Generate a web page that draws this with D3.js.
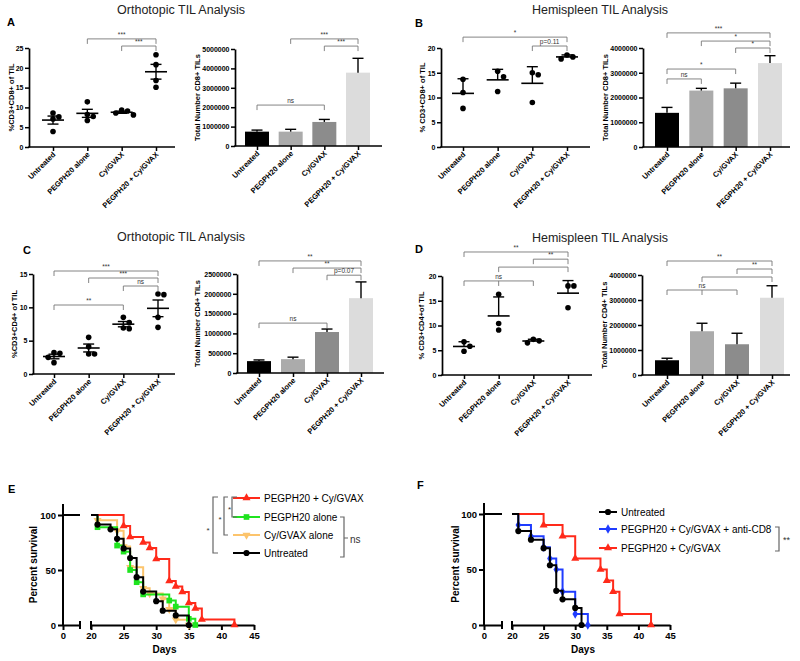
<!DOCTYPE html>
<html><head><meta charset="utf-8">
<script src="https://cdn.jsdelivr.net/npm/d3@7"></script>
<style>
body{margin:0;background:#fff;}
svg{display:block;}
</style></head><body>
<svg id="chart" width="800" height="661"></svg>
<script>
// ---------------- DATA ----------------
const categories = ["Untreated", "PEGPH20 alone", "Cy/GVAX", "PEGPH20 + Cy/GVAX"];
const barColors = ["#000000", "#ababab", "#8c8c8c", "#dcdcdc"];

// Panel A (Orthotopic, CD8)
const aPctCD8 = [[8.6, 7.6, 7.1, 3.9], [11.4, 8.2, 7.7, 6.7], [9.3, 9.1, 8.6, 8.1], [23.3, 20.8, 16.8, 15.1]];
const aPctTicks = [0, 5, 10, 15, 20, 25];
const aPctBrackets = [
  {from: 1, to: 3, level: 27.3, label: "***"},
  {from: 2, to: 3, level: 25.5, label: "***"}];
const aTotalCD8 = [740000, 740000, 1240000, 3780000];
const aTotalCD8Err = [80000, 120000, 130000, 740000];
const aTotalTicks = [0, 1000000, 2000000, 3000000, 4000000, 5000000];
const aTotalBrackets = [
  {from: 1, to: 3, level: 5520000, label: "***"},
  {from: 2, to: 3, level: 5150000, label: "***"},
  {from: 0, to: 2, level: 2110000, label: "ns"}];

// Panel B (Hemispleen, CD8)
const bPctCD8 = [[13.7, 11.0, 7.8], [15.3, 14.2, 11.2], [15.0, 14.6, 9.0], [18.6, 18.2, 17.8]];
const bPctTicks = [0, 5, 10, 15, 20];
const bPctBrackets = [
  {from: 0, to: 3, level: 22.2, label: "*"},
  {from: 2, to: 3, level: 20.4, label: "p=0.11"}];
const bTotalCD8 = [1380000, 2280000, 2370000, 3390000];
const bTotalCD8Err = [220000, 90000, 210000, 300000];
const bTotalTicks = [0, 1000000, 2000000, 3000000, 4000000];
const bTotalBrackets = [
  {from: 0, to: 3, level: 4610000, label: "***"},
  {from: 1, to: 3, level: 4280000, label: "*"},
  {from: 2, to: 3, level: 4000000, label: "*"},
  {from: 0, to: 2, level: 3150000, label: "*"},
  {from: 0, to: 1, level: 2750000, label: "ns"}];

// Panel C (Orthotopic, CD4)
const cPctCD4 = [[3.2, 3.1, 2.5, 1.7], [5.5, 4.1, 3.0, 3.0], [8.5, 7.7, 6.9, 6.8], [12.0, 11.9, 8.5, 7.0]];
const cPctTicks = [0, 5, 10, 15];
const cPctBrackets = [
  {from: 0, to: 3, level: 15.45, label: "***"},
  {from: 1, to: 3, level: 14.4, label: "***"},
  {from: 2, to: 3, level: 13.2, label: "ns"},
  {from: 0, to: 2, level: 10.35, label: "**"}];
const cTotalCD4 = [300000, 350000, 1035000, 1890000];
const cTotalCD4Err = [30000, 50000, 75000, 410000];
const cTotalTicks = [0, 500000, 1000000, 1500000, 2000000, 2500000];
const cTotalBrackets = [
  {from: 0, to: 3, level: 2830000, label: "**"},
  {from: 1, to: 3, level: 2650000, label: "**"},
  {from: 2, to: 3, level: 2470000, label: "p=0.07"},
  {from: 0, to: 2, level: 1260000, label: "ns"}];

// Panel D (Hemispleen, CD4)
const dPctCD4 = [[6.7, 5.8, 4.8], [16.3, 10.4, 9.1], [7.2, 6.9, 6.5], [18.0, 18.0, 13.6]];
const dPctTicks = [0, 5, 10, 15, 20];
const dPctBrackets = [
  {from: 0, to: 3, level: 24.85, label: "**"},
  {from: 2, to: 3, level: 23.4, label: "**"},
  {from: 1, to: 3, level: 21.8, label: ""},
  {from: 0, to: 2, mid: 1, level: 19.0, label: "ns"}];
const dTotalCD4 = [590000, 1750000, 1230000, 3090000];
const dTotalCD4Err = [80000, 320000, 440000, 480000];
const dTotalTicks = [0, 1000000, 2000000, 3000000, 4000000];
const dTotalBrackets = [
  {from: 0, to: 3, level: 4560000, label: "**"},
  {from: 2, to: 3, level: 4240000, label: "**"},
  {from: 1, to: 3, level: 3920000, label: ""},
  {from: 0, to: 2, mid: 1, level: 3400000, label: "ns"}];

// Panel E survival (day, % surviving)
const survivalTicks = [20, 25, 30, 35, 40, 45];
const survivalYTicks = [0, 50, 100];
const eCombo = [[25, 90], [26, 80], [28, 75], [29, 70], [30, 60], [32, 40], [33, 35], [34, 30], [35, 20], [36, 15], [37, 5], [42, 0]];
const ePEGPH20 = [[21, 88.9], [24, 72.2], [25, 66.7], [26, 50], [27, 38.9], [28, 27.8], [32, 22.2], [33, 16.7], [35, 5.6], [36, 0]];
const eCyGVAX = [[21, 95.2], [24, 85.7], [25, 71.4], [26, 52.4], [28, 33.3], [29, 28.6], [31, 23.8], [32, 14.3], [33, 4.8], [35, 0]];
const eUntreated = [[21, 91.3], [23, 87], [24, 78.3], [25, 69.6], [26, 60.9], [27, 43.5], [28, 30.4], [30, 21.7], [31, 13], [33, 8.7], [35, 0]];
const eNames = ["PEGPH20 + Cy/GVAX", "PEGPH20 alone", "Cy/GVAX alone", "Untreated"];

// Panel F survival
const fUntreated = [[21, 84.6], [23, 76.9], [25, 69.2], [26, 53.8], [27, 30.8], [28, 23.1], [30, 15.4], [31, 0]];
const fAntiCD8 = [[21, 90], [23, 80], [25, 70], [26, 60], [27, 50], [28, 30], [30, 10], [32, 0]];
const fCombo = [[25, 90], [28, 80], [30, 60], [34, 50], [35, 40], [36, 30], [37, 10], [42, 0]];
const fNames = ["Untreated", "PEGPH20 + Cy/GVAX + anti-CD8", "PEGPH20 + Cy/GVAX"];

// ---------------- DRAWING ----------------
const FONT = '"Liberation Sans", Arial, Helvetica, sans-serif';
const svg = d3.select("#chart").attr("font-family", FONT);
const fmt = d3.format("d");

function text(g, x, y, s, opts = {}) {
  const t = g.append("text").attr("x", x).attr("y", y).text(s)
    .attr("font-size", opts.size || 8).attr("fill", opts.fill || "#000")
    .attr("font-weight", opts.bold ? "bold" : "normal")
    .attr("text-anchor", opts.anchor || "start");
  if (opts.rotate !== undefined) t.attr("transform", `rotate(${opts.rotate},${x},${y})`);
  return t;
}

function catFrame(L) {
  const g = svg.append("g");
  const y = d3.scaleLinear().domain([0, L.ymax]).range([L.yBot, L.yTop]);
  const x = d3.scalePoint().domain(categories).range(L.cats);
  // y axis
  const ya = g.append("g").attr("transform", `translate(${L.axisX},0)`)
    .call(d3.axisLeft(y).tickValues(L.ticks).tickFormat(fmt).tickSize(4).tickSizeOuter(0).tickPadding(1.5));
  ya.attr("font-family", FONT).attr("font-size", 7).attr("font-weight", "bold");
  ya.select(".domain").attr("stroke-width", 1.7);
  ya.selectAll(".tick line").attr("stroke-width", 1.5);
  // x axis
  g.append("line").attr("x1", L.axisX - 0.8).attr("x2", L.xEnd).attr("y1", L.yBot).attr("y2", L.yBot)
    .attr("stroke", "#000").attr("stroke-width", 1.7);
  const xa = g.append("g").attr("transform", `translate(0,${L.yBot})`)
    .call(d3.axisBottom(x).tickSize(4).tickFormat(""));
  xa.select(".domain").remove();
  xa.selectAll(".tick line").attr("stroke-width", 1.5);
  categories.forEach(c => {
    text(g, x(c) + 3, L.yBot + 8, c, {size: 7.5, bold: true, anchor: "end", rotate: -45});
  });
  // y label
  text(g, L.labelX, (L.yTop + L.yBot) / 2, L.ylabel, {size: 7.5, bold: true, anchor: "middle", rotate: -90})
    .attr("dominant-baseline", "central");
  // brackets
  L.brackets.forEach(b => {
    const x1 = x(categories[b.from]), x2 = x(categories[b.to]), yy = y(b.level);
    const p = d3.path();
    p.moveTo(x1, yy + 5); p.lineTo(x1, yy); p.lineTo(x2, yy); p.lineTo(x2, yy + 5);
    if (b.mid !== undefined) { const xm = x(categories[b.mid]); p.moveTo(xm, yy); p.lineTo(xm, yy + 5); }
    g.append("path").attr("d", p.toString()).attr("fill", "none").attr("stroke", "#777").attr("stroke-width", 0.9);
    if (b.label) text(g, (x1 + x2) / 2, yy - 2, b.label, {size: 6.5, fill: "#333", anchor: "middle"});
  });
  return {g, x, y};
}

function scatterPanel(L, values, errMode) {
  const {g, x, y} = catFrame(L);
  values.forEach((vals, i) => {
    const cx = x(categories[i]);
    const m = d3.mean(vals);
    const sd = d3.deviation(vals);
    const e = errMode === "sem" ? sd / Math.sqrt(vals.length) : sd;
    const r = 2.8, placed = [];
    const order = vals.map((v, k) => k).sort((a, b) => vals[b] - vals[a]);
    order.forEach(k => {
      const py = y(vals[k]);
      const cands = [0, 1, -1, 2, -2].map(s => s * r * 2.1);
      let off = 0;
      for (const c of cands) {
        if (placed.every(p => Math.hypot(p[0] - c, p[1] - py) >= 2 * r)) { off = c; break; }
      }
      placed.push([off, py]);
      g.append("circle").attr("cx", cx + off).attr("cy", py).attr("r", r).attr("fill", "#000");
    });
    const line = (x1, y1, x2, y2, w) => g.append("line").attr("x1", x1).attr("y1", y1).attr("x2", x2).attr("y2", y2)
      .attr("stroke", "#000").attr("stroke-width", w);
    line(cx - 11, y(m), cx + 11, y(m), 1.6);
    if (errMode === "sem") {
      line(cx, y(m - e), cx, y(m + e), 1.4);
      line(cx - 5.5, y(m - e), cx + 5.5, y(m - e), 1.4);
      line(cx - 5.5, y(m + e), cx + 5.5, y(m + e), 1.4);
    } else {
      line(cx, y(m), cx, y(m + e), 1.4);
      line(cx - 5.5, y(m + e), cx + 5.5, y(m + e), 1.4);
    }
  });
}

function barPanel(L, values, errs) {
  const {g, x, y} = catFrame(L);
  const bw = 24;
  values.forEach((v, i) => {
    const cx = x(categories[i]);
    const top = y(v + errs[i]);
    g.append("line").attr("x1", cx).attr("x2", cx).attr("y1", y(v)).attr("y2", top).attr("stroke", "#000").attr("stroke-width", 1.4);
    g.append("line").attr("x1", cx - 5.5).attr("x2", cx + 5.5).attr("y1", top).attr("y2", top).attr("stroke", "#000").attr("stroke-width", 1.4);
    g.insert("rect", ":first-child").attr("x", cx - bw / 2).attr("y", y(v)).attr("width", bw).attr("height", y(0) - y(v))
      .attr("fill", barColors[i]);
  });
}

// Titles and letters
text(svg, 181, 14, "Orthotopic TIL Analysis", {size: 12.5, anchor: "middle", fill: "#222"});
text(svg, 600, 14, "Hemispleen TIL Analysis", {size: 12.5, anchor: "middle", fill: "#222"});
text(svg, 181, 241, "Orthotopic TIL Analysis", {size: 12.5, anchor: "middle", fill: "#222"});
text(svg, 600, 242, "Hemispleen TIL Analysis", {size: 12.5, anchor: "middle", fill: "#222"});
text(svg, 7, 26, "A", {size: 11, bold: true});
text(svg, 415, 27, "B", {size: 11, bold: true});
text(svg, 23, 254, "C", {size: 11, bold: true});
text(svg, 415, 253, "D", {size: 11, bold: true});
text(svg, 8, 493, "E", {size: 11, bold: true});
text(svg, 417, 489, "F", {size: 11, bold: true});

scatterPanel({axisX: 29, xEnd: 175, yTop: 48, yBot: 147, cats: [53, 156], ymax: 25, ticks: aPctTicks,
  ylabel: "%CD3+CD8+ of  TIL", labelX: 11, brackets: aPctBrackets}, aPctCD8, "sem");
barPanel({axisX: 235, xEnd: 382, yTop: 49, yBot: 146, cats: [257, 358], ymax: 5000000, ticks: aTotalTicks,
  ylabel: "Total Number CD8+ TILs", labelX: 197, brackets: aTotalBrackets}, aTotalCD8, aTotalCD8Err);
scatterPanel({axisX: 441, xEnd: 590, yTop: 48, yBot: 147, cats: [463, 567], ymax: 20, ticks: bPctTicks,
  ylabel: "% CD3+CD8+ of TIL", labelX: 422, brackets: bPctBrackets}, bPctCD8, "sd");
barPanel({axisX: 643, xEnd: 790, yTop: 48, yBot: 147, cats: [667, 770], ymax: 4000000, ticks: bTotalTicks,
  ylabel: "Total Number CD8+ TILs", labelX: 605, brackets: bTotalBrackets}, bTotalCD8, bTotalCD8Err);
scatterPanel({axisX: 33, xEnd: 175, yTop: 274, yBot: 374, cats: [54, 158], ymax: 15, ticks: cPctTicks,
  ylabel: "%CD3+CD4+ of TIL", labelX: 14, brackets: cPctBrackets}, cPctCD4, "sem");
barPanel({axisX: 237, xEnd: 384, yTop: 274, yBot: 373, cats: [259, 361], ymax: 2500000, ticks: cTotalTicks,
  ylabel: "Total Number CD4+ TILs", labelX: 197, brackets: cTotalBrackets}, cTotalCD4, cTotalCD4Err);
scatterPanel({axisX: 442, xEnd: 592, yTop: 276, yBot: 375, cats: [464, 568], ymax: 20, ticks: dPctTicks,
  ylabel: "% CD3+CD4+of TIL", labelX: 421, brackets: dPctBrackets}, dPctCD4, "sd");
barPanel({axisX: 642, xEnd: 790, yTop: 275, yBot: 375, cats: [667, 772], ymax: 4000000, ticks: dTotalTicks,
  ylabel: "Total Number CD4+ TILs", labelX: 604, brackets: dTotalBrackets}, dTotalCD4, dTotalCD4Err);

// ---------------- SURVIVAL ----------------
const markerTypes = {
  circle: d3.symbol().type(d3.symbolCircle).size(30),
  square: d3.symbol().type(d3.symbolSquare).size(32),
  triangle: d3.symbol().type(d3.symbolTriangle).size(28),
  triDown: d3.symbol().type(d3.symbolTriangle).size(28),
  diamond: d3.symbol().type(d3.symbolDiamond).size(26)
};
function marker(g, type, x, y, color) {
  g.append("path").attr("d", markerTypes[type]()).attr("fill", color)
    .attr("transform", `translate(${x},${y})` + (type === "triDown" ? " rotate(180)" : ""));
}

function survivalPanel(S) {
  const g = svg.append("g");
  const y = d3.scaleLinear().domain([0, 100]).range([S.y0, S.y100]);
  const x1 = d3.scaleLinear().domain([0, 5]).range([S.axisX, S.seg1End]);
  const x2 = d3.scaleLinear().domain([20, 45]).range([S.seg2Start, S.seg2End]);
  g.append("line").attr("x1", S.axisX).attr("x2", S.axisX).attr("y1", S.yTop).attr("y2", S.y0 + 1)
    .attr("stroke", "#000").attr("stroke-width", 2);
  const ya = g.append("g").attr("transform", `translate(${S.axisX},0)`)
    .call(d3.axisLeft(y).tickValues(survivalYTicks).tickFormat(fmt).tickSize(5).tickSizeOuter(0).tickPadding(2));
  ya.select(".domain").remove();
  ya.attr("font-family", FONT).attr("font-size", 9.5).attr("font-weight", "bold");
  ya.selectAll(".tick line").attr("stroke-width", 2);
  const xa1 = g.append("g").attr("transform", `translate(0,${S.y0})`)
    .call(d3.axisBottom(x1).tickValues([0]).tickFormat(fmt).tickSize(5).tickSizeOuter(0).tickPadding(2));
  xa1.attr("font-family", FONT).attr("font-size", 9.5).attr("font-weight", "bold");
  xa1.select(".domain").attr("stroke-width", 2);
  xa1.selectAll(".tick line").attr("stroke-width", 2);
  const xa2 = g.append("g").attr("transform", `translate(0,${S.y0})`)
    .call(d3.axisBottom(x2).tickValues(survivalTicks).tickFormat(fmt).tickSize(5).tickSizeOuter(0).tickPadding(2));
  xa2.attr("font-family", FONT).attr("font-size", 9.5).attr("font-weight", "bold");
  xa2.select(".domain").attr("stroke-width", 2);
  xa2.selectAll(".tick line").attr("stroke-width", 2);
  [x1(5), x2(20)].forEach(bx => g.append("line").attr("x1", bx).attr("x2", bx).attr("y1", S.y0 - 4).attr("y2", S.y0 + 4)
    .attr("stroke", "#000").attr("stroke-width", 2));
  text(g, S.ylabelX, (S.yTop + S.y0) / 2, "Percent survival", {size: 10, bold: true, anchor: "middle", rotate: -90})
    .attr("dominant-baseline", "central");
  text(g, (x2(20) + x2(45)) / 2 - 8, 653, "Days", {size: 10, bold: true, anchor: "middle"});
  g.append("line").attr("x1", x1(0)).attr("x2", x1(5)).attr("y1", y(100)).attr("y2", y(100))
    .attr("stroke", "#000").attr("stroke-width", 2);
  const line = d3.line().x(d => x2(d[0])).y(d => y(d[1])).curve(d3.curveStepAfter);
  S.drawOrder.forEach(i => {
    const c = S.curves[i];
    g.append("path").attr("d", line([[20, 100]].concat(c.data))).attr("fill", "none")
      .attr("stroke", c.color).attr("stroke-width", 2);
    c.data.forEach(d => marker(g, c.marker, x2(d[0]), y(d[1]), c.color));
  });
  S.curves.forEach((c, i) => {
    const ly = S.legendY[i];
    g.append("line").attr("x1", S.legendX[0]).attr("x2", S.legendX[1]).attr("y1", ly).attr("y2", ly)
      .attr("stroke", c.color).attr("stroke-width", 2);
    marker(g, c.marker, (S.legendX[0] + S.legendX[1]) / 2, ly, c.color);
    text(g, S.legendX[1] + 4, ly + 3.5, c.name, {size: 10});
  });
  return g;
}

function bracketPath(g, d) {
  g.append("path").attr("d", d).attr("fill", "none").attr("stroke", "#666").attr("stroke-width", 1.2);
}

const gE = survivalPanel({
  axisX: 63, seg1End: 80, seg2Start: 91, seg2End: 254, yTop: 504, y100: 515, y0: 625, ylabelX: 33,
  curves: [
    {data: eCombo, color: "#ff2a1a", marker: "triangle", name: eNames[0]},
    {data: ePEGPH20, color: "#1fe41f", marker: "square", name: eNames[1]},
    {data: eCyGVAX, color: "#fcc46c", marker: "triDown", name: eNames[2]},
    {data: eUntreated, color: "#000000", marker: "circle", name: eNames[3]}],
  drawOrder: [2, 1, 0, 3],
  legendX: [233, 260], legendY: [498, 517, 535, 553]
});
bracketPath(gE, "M237,497H232V517H237");
bracketPath(gE, "M228,497H224V535H228");
bracketPath(gE, "M218,497H213V553H218");
text(gE, 229.5, 512, "*", {size: 8, anchor: "middle", fill: "#333"});
text(gE, 220, 522, "*", {size: 8, anchor: "middle", fill: "#333"});
text(gE, 208, 533, "*", {size: 8, anchor: "middle", fill: "#333"});
bracketPath(gE, "M340,517H344V557H340M344,538H348");
text(gE, 350, 543, "ns", {size: 10, fill: "#333"});

const gF = survivalPanel({
  axisX: 484, seg1End: 502, seg2Start: 512, seg2End: 670, yTop: 503, y100: 514, y0: 625, ylabelX: 455,
  curves: [
    {data: fUntreated, color: "#000000", marker: "circle", name: fNames[0]},
    {data: fAntiCD8, color: "#1f3cff", marker: "diamond", name: fNames[1]},
    {data: fCombo, color: "#ff2a1a", marker: "triangle", name: fNames[2]}],
  drawOrder: [1, 2, 0],
  legendX: [599, 617], legendY: [512, 529, 548]
});
bracketPath(gF, "M775,527H779V551H775");
text(gF, 783, 543, "**", {size: 9, fill: "#333"});
</script>
</body></html>
